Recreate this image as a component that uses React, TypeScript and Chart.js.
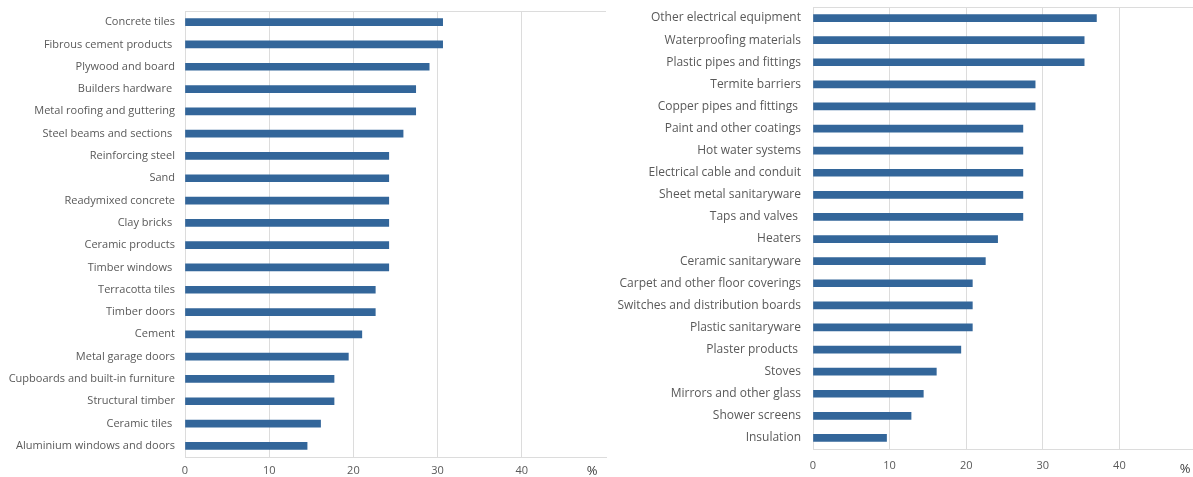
import React, { useEffect, useRef } from "react";
import { Chart, registerables } from "chart.js";

Chart.register(...registerables);

const leftCategories = [
  "Concrete tiles",
  "Fibrous cement products ",
  "Plywood and board",
  "Builders hardware ",
  "Metal roofing and guttering",
  "Steel beams and sections ",
  "Reinforcing steel",
  "Sand",
  "Readymixed concrete",
  "Clay bricks ",
  "Ceramic products",
  "Timber windows ",
  "Terracotta tiles",
  "Timber doors",
  "Cement",
  "Metal garage doors",
  "Cupboards and built-in furniture",
  "Structural timber",
  "Ceramic tiles ",
  "Aluminium windows and doors",
];
const leftValues = [30.6, 30.6, 29.0, 27.4, 27.4, 25.9, 24.2, 24.2, 24.2, 24.2, 24.2, 24.2, 22.6, 22.6, 21.0, 19.4, 17.7, 17.7, 16.1, 14.5];

const rightCategories = [
  "Other electrical equipment",
  "Waterproofing materials",
  "Plastic pipes and fittings",
  "Termite barriers",
  "Copper pipes and fittings ",
  "Paint and other coatings",
  "Hot water systems",
  "Electrical cable and conduit",
  "Sheet metal sanitaryware",
  "Taps and valves ",
  "Heaters",
  "Ceramic sanitaryware",
  "Carpet and other floor coverings",
  "Switches and distribution boards",
  "Plastic sanitaryware",
  "Plaster products ",
  "Stoves",
  "Mirrors and other glass",
  "Shower screens",
  "Insulation",
];
const rightValues = [37.0, 35.4, 35.4, 29.0, 29.0, 27.4, 27.4, 27.4, 27.4, 27.4, 24.1, 22.5, 20.8, 20.8, 20.8, 19.3, 16.1, 14.4, 12.8, 9.6];

const xTicks = [0, 10, 20, 30, 40, 50];
const unitLabel = "%";

const BAR = "#33669a";
const GRID = "#dcdcdc";
const TEXT = "#595959";
const FONT = "'Open Sans', sans-serif";

type Cfg = {
  labels: string[];
  values: number[];
  yWidth: number;
  padTop: number;
  padRight: number;
  xHeight: number;
  tickPad: number;
  labelPad: number;
  labelSize: number;
  unitOffsetX: number;
  unitY: number;
};

function BarChart({ cfg, width, height }: { cfg: Cfg; width: number; height: number }) {
  const ref = useRef<HTMLCanvasElement>(null);
  useEffect(() => {
    if (!ref.current) return;
    const unitPlugin = {
      id: "unitPlugin",
      afterDraw(chart: any) {
        const { ctx, chartArea } = chart;
        ctx.save();
        ctx.strokeStyle = GRID;
        ctx.lineWidth = 1;
        ctx.beginPath();
        ctx.moveTo(chartArea.left, chartArea.top + 0.5);
        ctx.lineTo(chartArea.right, chartArea.top + 0.5);
        ctx.stroke();
        ctx.fillStyle = "#404040";
        ctx.font = `13px ${FONT}`;
        ctx.textAlign = "center";
        ctx.textBaseline = "middle";
        ctx.fillText(unitLabel, chartArea.right - cfg.unitOffsetX, cfg.unitY);
        ctx.restore();
      },
    };
    const chart = new Chart(ref.current, {
      type: "bar",
      data: {
        labels: cfg.labels,
        datasets: [
          {
            data: cfg.values,
            backgroundColor: BAR,
            borderWidth: 0,
            barThickness: 7,
          },
        ],
      },
      options: {
        indexAxis: "y",
        animation: false,
        responsive: false,
        maintainAspectRatio: false,
        layout: { padding: { top: cfg.padTop, right: cfg.padRight, left: 0, bottom: 0 } },
        plugins: { legend: { display: false }, tooltip: { enabled: false } },
        scales: {
          x: {
            min: 0,
            max: 50,
            afterBuildTicks(scale: any) {
              scale.ticks = xTicks.map((v) => ({ value: v }));
            },
            afterFit(scale: any) {
              scale.height = cfg.xHeight;
              scale.paddingLeft = 0;
              scale.paddingRight = 0;
            },
            grid: {
              drawTicks: false,
              color: (c: any) => (c.tick && c.tick.value === 50 ? "rgba(0,0,0,0)" : GRID),
              lineWidth: 1,
            },
            border: { display: true, color: GRID },
            ticks: {
              padding: cfg.tickPad,
              color: TEXT,
              font: { family: FONT, size: 11 },
              callback: (v: any) => (v === 50 ? "" : String(v)),
            },
          },
          y: {
            afterFit(scale: any) {
              scale.width = cfg.yWidth;
              scale.paddingTop = 0;
              scale.paddingBottom = 0;
            },
            grid: { display: false, drawTicks: false },
            border: { display: true, color: GRID },
            ticks: {
              padding: cfg.labelPad,
              color: TEXT,
              font: { family: FONT, size: cfg.labelSize },
              autoSkip: false,
            },
          },
        },
      },
      plugins: [unitPlugin],
    });
    return () => chart.destroy();
  }, [cfg]);
  return <canvas ref={ref} width={width} height={height} style={{ display: "block", width, height }} />;
}

const leftCfg: Cfg = {
  labels: leftCategories,
  values: leftValues,
  yWidth: 185,
  padTop: 11,
  padRight: 4,
  xHeight: 20,
  tickPad: 7,
  labelPad: 10,
  labelSize: 11,
  unitOffsetX: 14,
  unitY: 471,
};

const rightCfg: Cfg = {
  labels: rightCategories,
  values: rightValues,
  yWidth: 213,
  padTop: 7,
  padRight: 4,
  xHeight: 28,
  tickPad: 10,
  labelPad: 12,
  labelSize: 12,
  unitOffsetX: 11,
  unitY: 469,
};

export default function App() {
  return (
    <div
      style={{
        position: "fixed",
        left: 0,
        top: 0,
        width: 1193,
        height: 477,
        overflow: "hidden",
        background: "#ffffff",
      }}
    >
      <div style={{ position: "absolute", left: 0, top: 0 }}>
        <BarChart cfg={leftCfg} width={610} height={477} />
      </div>
      <div style={{ position: "absolute", left: 600, top: 0 }}>
        <BarChart cfg={rightCfg} width={600} height={477} />
      </div>
    </div>
  );
}
